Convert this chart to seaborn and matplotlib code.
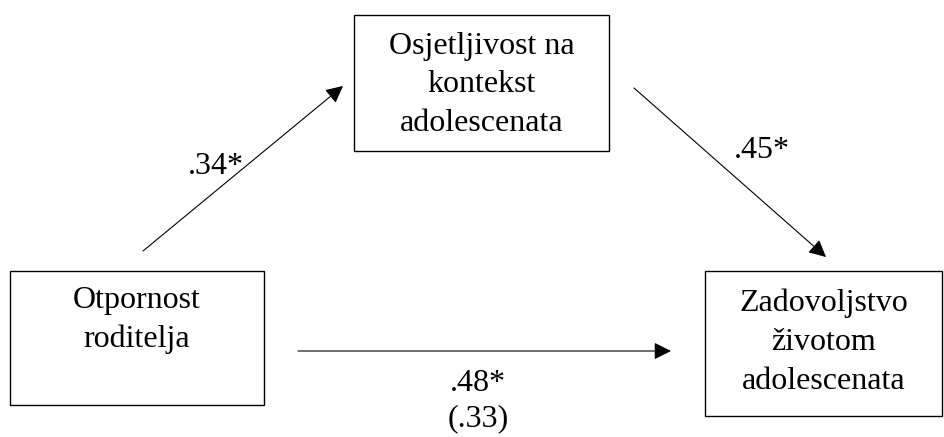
import matplotlib
matplotlib.use("Agg")
import matplotlib.pyplot as plt
import seaborn as sns
from matplotlib.patches import Rectangle

# node labels and path coefficients
nodes = ["Otpornost\nroditelja", "Osjetljivost na\nkontekst\nadolescenata", "Zadovoljstvo\nživotom\nadolescenata"]
coef_a = ".34*"
coef_b = ".45*"
coef_c = ".48*\n(.33)"

sns.set_theme(style="white")
plt.rcParams["font.family"] = ["Liberation Serif", "DejaVu Serif"]
plt.rcParams["text.color"] = "black"

# layout in pixel space (x0, y0, x1, y1)
boxes = [(10, 271, 264, 405), (354, 15, 609, 151), (705, 271, 942, 416)]
text_y = [320, 85, 342]
arrows = [((143, 251), (343, 86)), ((634, 88), (826, 257)), ((298, 351), (671, 351))]
label_pos = [(216, 167, coef_a), (762, 150, coef_b), (478, 401, coef_c)]

fig, ax = plt.subplots(figsize=(9.44, 4.37), dpi=100)
fig.subplots_adjust(0, 0, 1, 1)
ax.set_xlim(0, 944)
ax.set_ylim(437, 0)
ax.axis("off")

for (x0, y0, x1, y1), label, ty in zip(boxes, nodes, text_y):
    ax.add_patch(Rectangle((x0, y0), x1 - x0, y1 - y0, fill=False, ec="black", lw=1.0))
    ax.text((x0 + x1) / 2, ty, label, ha="center", va="center", fontsize=23, linespacing=1.45)

for start, end in arrows:
    ax.annotate("", xy=end, xytext=start,
                arrowprops=dict(arrowstyle="-|>", color="black", lw=0.8, mutation_scale=26,
                                shrinkA=0, shrinkB=0))

for x, y, s in label_pos:
    ax.text(x, y, s, ha="center", va="center", fontsize=23, linespacing=1.3)

plt.savefig("out.png", dpi=100)
